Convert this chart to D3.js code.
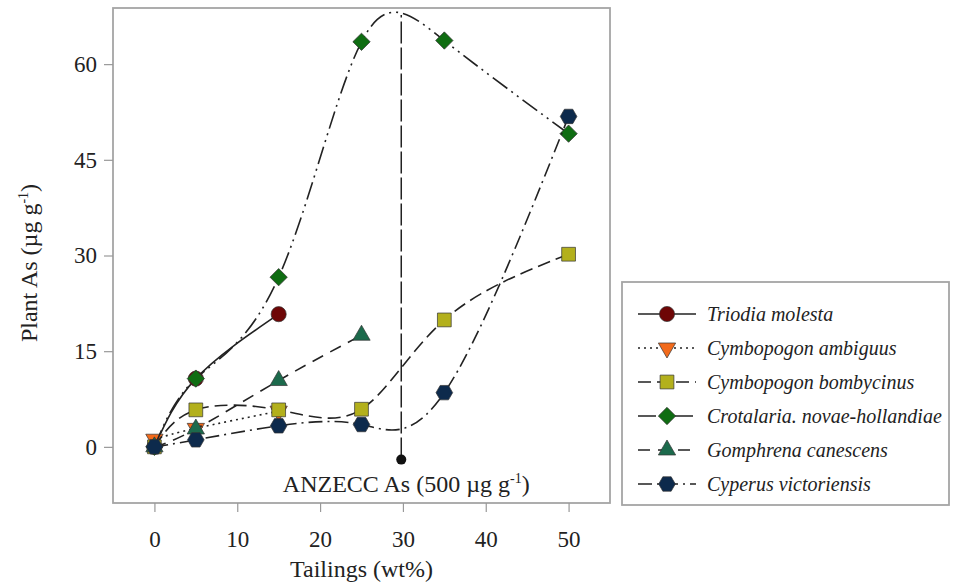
<!DOCTYPE html>
<html>
<head>
<meta charset="utf-8">
<script src="https://cdn.jsdelivr.net/npm/d3@7"></script>
<style>
    body { margin: 0; background: #fff; }
    text { font-family: "Liberation Serif", "DejaVu Serif", serif; fill: #222; }
</style>
</head>
<body>
<div id="chart"></div>
<script>
// tailings content (wt%) and plant As (ug/g)
let triodiaX = [0, 5, 15];
let triodiaY = [0, 10.7, 20.8];

let ambiguusX = [0, 5, 15];
let ambiguusY = [1.2, 2.9, 5.6];

let bombycinusX = [0, 5, 15, 25, 35, 50];
let bombycinusY = [0, 5.8, 5.8, 5.9, 19.9, 30.2];

let crotalariaX = [0, 5, 15, 25, 35, 50];
let crotalariaY = [0, 10.7, 26.6, 63.5, 63.7, 49.1];

let gomphrenaX = [0, 5, 15, 25];
let gomphrenaY = [0, 2.8, 10.4, 17.5];

let cyperusX = [0, 5, 15, 25, 35, 50];
let cyperusY = [0, 1.1, 3.3, 3.5, 8.5, 51.8];

let speciesNames = ["Triodia molesta", "Cymbopogon ambiguus", "Cymbopogon bombycinus",
    "Crotalaria. novae-hollandiae", "Gomphrena canescens", "Cyperus victoriensis"];

let xTicks = [0, 10, 20, 30, 40, 50];
let yTicks = [0, 15, 30, 45, 60];

// ANZECC guideline marker
let anzeccX = 29.8;
let anzeccY = [-2, 67.7];

let serif = "font-family: 'Liberation Serif', 'DejaVu Serif', serif";

let width = 953, height = 586;
let margin = {top: 8, right: 343, bottom: 83, left: 113};

let svg = d3.select("#chart").append("svg")
    .attr("width", width)
    .attr("height", height);

let x = d3.scaleLinear().domain([-5, 55]).range([margin.left, width - margin.right]);
let y = d3.scaleLinear().domain([-8.8, 68.8]).range([height - margin.bottom, margin.top]);

// frame
svg.append("rect")
    .attr("x", x.range()[0])
    .attr("y", y.range()[1])
    .attr("width", x.range()[1] - x.range()[0])
    .attr("height", y.range()[0] - y.range()[1])
    .attr("fill", "none")
    .attr("stroke", "#a5a5a5")
    .attr("stroke-width", 1.8);

// axes
let xAxis = d3.axisBottom(x).tickValues(xTicks).tickSize(9).tickPadding(19);
let yAxis = d3.axisLeft(y).tickValues(yTicks).tickSize(9).tickPadding(7);

let gx = svg.append("g")
    .attr("transform", `translate(0, ${y.range()[0]})`)
    .call(xAxis);
let gy = svg.append("g")
    .attr("transform", `translate(${x.range()[0]}, 0)`)
    .call(yAxis);

[gx, gy].forEach(g => {
    g.select(".domain").remove();
    g.selectAll(".tick line").attr("stroke", "#999").attr("stroke-width", 1.2);
    g.selectAll(".tick text")
        .attr("style", serif)
        .attr("font-size", 23)
        .attr("fill", "#222");
});

// axis titles
svg.append("text")
    .attr("x", (x.range()[0] + x.range()[1]) / 2)
    .attr("y", 577)
    .attr("text-anchor", "middle")
    .attr("style", serif)
    .attr("font-size", 24)
    .text("Tailings (wt%)");

let yTitle = svg.append("text")
    .attr("transform", "translate(37, 263) rotate(-90)")
    .attr("text-anchor", "middle")
    .attr("style", serif)
    .attr("font-size", 24);
yTitle.append("tspan").text("Plant As (µg g");
yTitle.append("tspan").attr("dy", -9).attr("font-size", 14).text("-1");
yTitle.append("tspan").attr("dy", 9).text(")");

// ANZECC line
svg.append("line")
    .attr("x1", x(anzeccX)).attr("x2", x(anzeccX))
    .attr("y1", y(anzeccY[0])).attr("y2", y(anzeccY[1]))
    .attr("stroke", "#222")
    .attr("stroke-width", 1.5)
    .attr("stroke-dasharray", "22,4");

svg.append("circle")
    .attr("cx", x(anzeccX))
    .attr("cy", y(anzeccY[0]))
    .attr("r", 5)
    .attr("fill", "#111");

let anz = svg.append("text")
    .attr("x", x(anzeccX) + 5)
    .attr("y", 492)
    .attr("text-anchor", "middle")
    .attr("style", serif)
    .attr("font-size", 24);
anz.append("tspan").text("ANZECC As (500 µg g");
anz.append("tspan").attr("dy", -9).attr("font-size", 14).text("-1");
anz.append("tspan").attr("dy", 9).text(")");

// marker shapes
let hexagon = {
    draw(context, size) {
        let r = Math.sqrt(size / (1.5 * Math.sqrt(3)));
        for (let i = 0; i < 6; i++) {
            let a = Math.PI / 3 * i;
            let px = r * Math.cos(a), py = r * Math.sin(a);
            if (i === 0) context.moveTo(px, py); else context.lineTo(px, py);
        }
        context.closePath();
    }
};

let series = [
    {name: speciesNames[0], xs: triodiaX, ys: triodiaY, color: "#6e0606",
        symbol: d3.symbolCircle, size: 180, rotate: 0, dash: null},
    {name: speciesNames[1], xs: ambiguusX, ys: ambiguusY, color: "#f26a1b",
        symbol: d3.symbolTriangle, size: 130, rotate: 180, dash: "2,4"},
    {name: speciesNames[2], xs: bombycinusX, ys: bombycinusY, color: "#b3b01c",
        symbol: d3.symbolSquare, size: 190, rotate: 0, dash: "13,6"},
    {name: speciesNames[3], xs: crotalariaX, ys: crotalariaY, color: "#0f6d12",
        symbol: d3.symbolSquare, size: 150, rotate: 45, dash: "18,5,2,5,2,5"},
    {name: speciesNames[4], xs: gomphrenaX, ys: gomphrenaY, color: "#1c6a4c",
        symbol: d3.symbolTriangle, size: 130, rotate: 0, dash: "12,8"},
    {name: speciesNames[5], xs: cyperusX, ys: cyperusY, color: "#0d2a4c",
        symbol: hexagon, size: 180, rotate: 0, dash: "14,5,2,5"}
];

let line = d3.line()
    .x(d => x(d[0]))
    .y(d => y(d[1]))
    .curve(d3.curveNatural);

series.forEach(s => {
    let pts = s.xs.map((v, i) => [v, s.ys[i]]);
    let g = svg.append("g");

    g.append("path")
        .datum(pts)
        .attr("d", line)
        .attr("fill", "none")
        .attr("stroke", "#222")
        .attr("stroke-width", 1.6)
        .attr("stroke-dasharray", s.dash);

    g.selectAll(".pt")
        .data(pts)
        .enter().append("path")
        .attr("d", d3.symbol().type(s.symbol).size(s.size))
        .attr("transform", d => `translate(${x(d[0])}, ${y(d[1])}) rotate(${s.rotate})`)
        .attr("fill", s.color)
        .attr("stroke", "#333")
        .attr("stroke-width", 0.7);
});

// legend
let legend = svg.append("g").attr("class", "legend");
legend.append("rect")
    .attr("x", 622).attr("y", 282)
    .attr("width", 327).attr("height", 223)
    .attr("fill", "none")
    .attr("stroke", "#a5a5a5")
    .attr("stroke-width", 1.8);

let rowY = d3.scalePoint().domain(speciesNames).range([314, 484]);

series.forEach(s => {
    let ly = rowY(s.name);
    legend.append("line")
        .attr("x1", 638).attr("x2", 696)
        .attr("y1", ly).attr("y2", ly)
        .attr("stroke", "#222")
        .attr("stroke-width", 1.6)
        .attr("stroke-dasharray", s.dash);
    legend.append("path")
        .attr("d", d3.symbol().type(s.symbol).size(s.size))
        .attr("transform", `translate(667, ${ly}) rotate(${s.rotate})`)
        .attr("fill", s.color)
        .attr("stroke", "#333")
        .attr("stroke-width", 0.7);
    legend.append("text")
        .attr("x", 707)
        .attr("y", ly + 7)
        .attr("style", serif)
        .attr("font-size", 20)
        .attr("font-style", "italic")
        .text(s.name);
});
</script>
</body>
</html>
